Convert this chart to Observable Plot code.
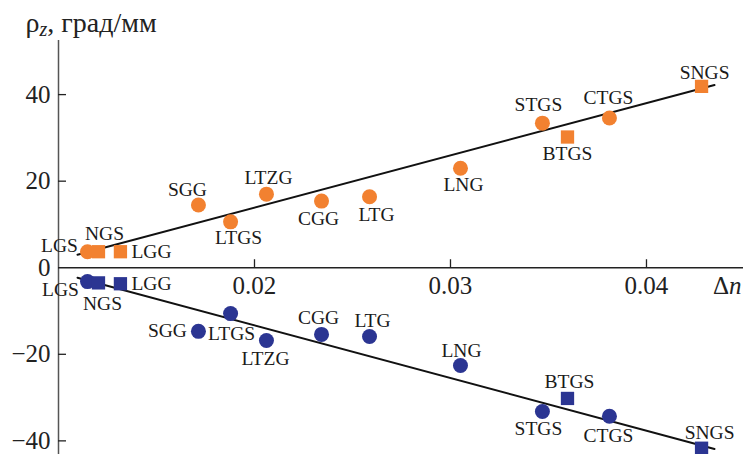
<!DOCTYPE html>
<html>
<head>
<meta charset="utf-8">
<script src="https://cdn.jsdelivr.net/npm/d3@7"></script>
<script src="https://cdn.jsdelivr.net/npm/@observablehq/plot@0.6"></script>
<style>
  html, body { margin: 0; padding: 0; background: #fff; }
</style>
</head>
<body>
<div id="chart"></div>
<script>
// ---- data ----
const crystals = ["LGS","NGS","LGG","SGG","LTGS","LTZG","CGG","LTG","LNG","STGS","BTGS","CTGS","SNGS"];
const shapes   = ["circle","square","square","circle","circle","circle","circle","circle","circle","circle","square","circle","square"];
const deltaN   = [0.01148,0.01204,0.01316,0.01714,0.01878,0.02061,0.02342,0.02587,0.03051,0.03469,0.03597,0.03811,0.04281];
const rhoPos   = [3.7,3.7,3.7,14.5,10.6,17.0,15.4,16.4,23.0,33.4,30.2,34.6,41.9];
const rhoNeg   = [-3.2,-3.5,-3.7,-14.7,-10.6,-16.8,-15.4,-15.9,-22.6,-33.2,-30.2,-34.3,-41.7];
const fitX     = [0.01097, 0.04347];
const fitPos   = [3.0, 42.2];
const fitNeg   = [-2.3, -41.9];
const xTicks   = [0.02, 0.03, 0.04];
const yTicks   = [-40, -20, 0, 20, 40];
const yTitle   = "ρz, град/мм";
const xTitle   = "Δn";

// ---- styling / label placement (pixels, not data) ----
const ORANGE = "#F28130", BLUE = "#2B3592";
const FONT = "'Liberation Serif', 'Times New Roman', serif";
const offPos = {LGS:[-28,-6],NGS:[6,-18],LGG:[31,0],SGG:[-11,-15],LTGS:[8,16],LTZG:[2,-16],CGG:[-3,18],LTG:[7,18],LNG:[3,17],STGS:[-4,-18],BTGS:[0,17],CTGS:[-1,-20],SNGS:[3,-14]};
const offNeg = {LGS:[-27,8],NGS:[4,21],LGG:[31,0],SGG:[-31,-1],LTGS:[1,20],LTZG:[-1,18],CGG:[-3,-17],LTG:[3,-16],LNG:[1,-15],STGS:[-4,17],BTGS:[2,-17],CTGS:[-1,20],SNGS:[8,-15]};

const pos = crystals.map((name, i) => ({name, shape: shapes[i], x: deltaN[i], y: rhoPos[i]}));
const neg = crystals.map((name, i) => ({name, shape: shapes[i], x: deltaN[i], y: rhoNeg[i]}));
const fitTop = fitX.map((x, i) => ({x, y: fitPos[i]}));
const fitBot = fitX.map((x, i) => ({x, y: fitNeg[i]}));

const xMin = 0.01, xMax = 0.04495;
const fmtY = d => d < 0 ? "\u2212" + (-d) : String(d);

const labelMarks = [];
for (const [rows, offs] of [[pos, offPos], [neg, offNeg]]) {
  for (const r of rows) {
    const [dx, dy] = offs[r.name];
    labelMarks.push(Plot.text([r], {x: "x", y: "y", text: "name", dx, dy,
      textAnchor: "middle", lineAnchor: "middle", fontSize: 19.5, fill: "#1a1a1a"}));
  }
}

const chart = Plot.plot({
  width: 743,
  height: 454,
  marginLeft: 58,
  marginRight: 0,
  marginTop: 40,
  marginBottom: 0,
  style: {fontFamily: FONT, background: "#fff", overflow: "visible"},
  x: {domain: [xMin, xMax], axis: null},
  y: {domain: [-43.15, 52.5], axis: null},
  symbol: {domain: ["circle", "square"], range: ["circle", "square"]},
  marks: [
    // axes
    Plot.ruleX([xMin], {stroke: "#555", strokeWidth: 1.5}),
    Plot.ruleY([0], {stroke: "#222", strokeWidth: 1.5}),
    Plot.ruleY(yTicks.filter(d => d !== 0), {y: d => d, x1: xMin, x2: xMin, insetRight: -8, stroke: "#222", strokeWidth: 1.3}),
    Plot.ruleX(xTicks, {x: d => d, y1: 0, y2: 0, insetTop: -8, stroke: "#222", strokeWidth: 1.3}),
    Plot.text(yTicks, {x: xMin, y: d => d, text: fmtY, dx: -8, dy: 0, textAnchor: "end", lineAnchor: "middle", fontSize: 25, fill: "#222"}),
    Plot.text(xTicks, {x: d => d, y: 0, text: d => String(d), dy: 26, textAnchor: "middle", lineAnchor: "bottom", fontSize: 25, fill: "#222"}),
    Plot.text([xTitle], {x: xMax, y: 0, text: d => d, dx: -2, dy: 26, textAnchor: "end", lineAnchor: "bottom", fontSize: 25, fill: "#222"}),
    Plot.text([yTitle], {frameAnchor: "top-left", text: d => d, dx: -33, dy: -9, textAnchor: "start", lineAnchor: "bottom", fontSize: 28, fill: "#222"}),
    // fitted lines
    Plot.line(fitTop, {x: "x", y: "y", stroke: "#111", strokeWidth: 2}),
    Plot.line(fitBot, {x: "x", y: "y", stroke: "#111", strokeWidth: 2}),
    // points
    Plot.dot(pos, {x: "x", y: "y", symbol: "shape", r: 7.5, fill: ORANGE, stroke: "none"}),
    Plot.dot(neg, {x: "x", y: "y", symbol: "shape", r: 7.5, fill: BLUE, stroke: "none"}),
    ...labelMarks
  ]
});

// rich text for titles (italic / subscript)
chart.querySelectorAll("text").forEach(t => {
  const NS = "http://www.w3.org/2000/svg";
  if (t.textContent === yTitle) {
    while (t.firstChild) t.removeChild(t.firstChild);
    const a = document.createElementNS(NS, "tspan"); a.textContent = "ρ";
    const b = document.createElementNS(NS, "tspan"); b.textContent = "z";
    b.setAttribute("font-style", "italic"); b.setAttribute("font-size", "20"); b.setAttribute("dy", "4");
    const c = document.createElementNS(NS, "tspan"); c.textContent = ", град/мм"; c.setAttribute("dy", "-4");
    t.append(a, b, c);
  } else if (t.textContent === xTitle) {
    while (t.firstChild) t.removeChild(t.firstChild);
    const a = document.createElementNS(NS, "tspan"); a.textContent = "Δ";
    const b = document.createElementNS(NS, "tspan"); b.textContent = "n"; b.setAttribute("font-style", "italic");
    t.append(a, b);
  }
});

document.getElementById("chart").appendChild(chart);
</script>
</body>
</html>
